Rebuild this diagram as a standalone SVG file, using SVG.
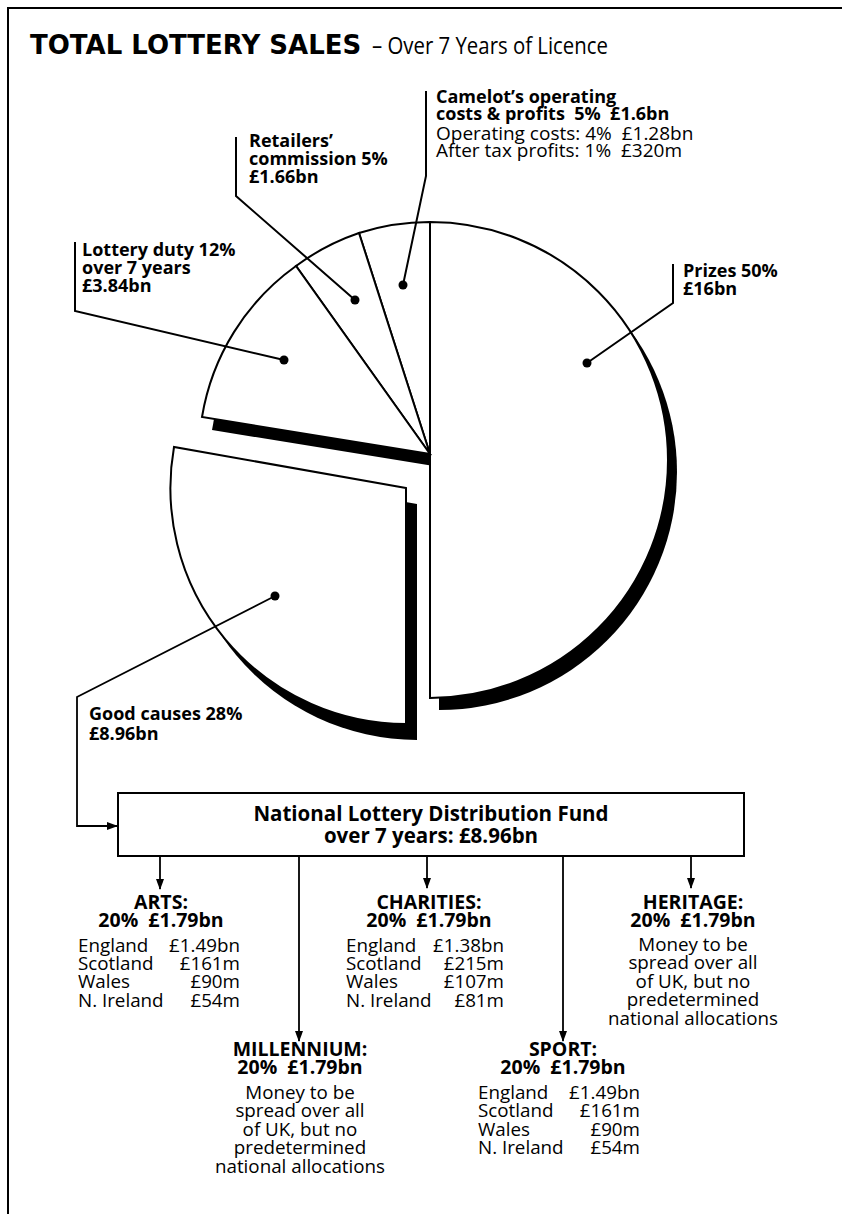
<svg xmlns="http://www.w3.org/2000/svg" width="842" height="1214" viewBox="0 0 842 1214">
  <defs>
    <style>
      text { font-family: "Open Sans", "Noto Sans", "Liberation Sans", sans-serif; fill: #000; }
      .title-b { font-family: "DejaVu Sans", "Open Sans", sans-serif; font-size: 26px; font-weight: 700; }
      .title-r { font-size: 24px; font-weight: 400; }
      .lbl { font-size: 18px; font-weight: 700; }
      .lbl-r { font-size: 19px; font-weight: 400; }
      .slice { fill: #fff; stroke: #000; stroke-width: 2; stroke-linejoin: miter; }
      .shadow { fill: #000; }
      .lead { fill: none; stroke: #000; stroke-width: 2; }
      .conn { fill: none; stroke: #000; stroke-width: 1.8; }
      .dot { fill: #000; }
      .box { fill: #fff; stroke: #000; stroke-width: 2; }
      .boxtxt { font-size: 20.5px; font-weight: 700; text-anchor: middle; }
      .hd { font-size: 19.5px; font-weight: 700; text-anchor: middle; }
      .body { font-size: 18.8px; }
      .mid { text-anchor: middle; }
      .end { text-anchor: end; }
    </style>
    <marker id="arrow" markerWidth="11" markerHeight="10" refX="10" refY="5" orient="auto" markerUnits="userSpaceOnUse">
      <path d="M0,1 L11,5 L0,9 Z" fill="#000"/>
    </marker>
  </defs>

  <rect x="0" y="0" width="842" height="1214" fill="#fff"/>

  <!-- panel frame -->
  <path d="M8,1214 V8 H842" fill="none" stroke="#000" stroke-width="2"/>

  <!-- title -->
  <g id="title">
    <text class="title-b" x="30" y="54">TOTAL LOTTERY SALES</text>
    <text class="title-r" x="372" y="54" textLength="236" lengthAdjust="spacingAndGlyphs">– Over 7 Years of Licence</text>
  </g>

  <!-- drop shadows under the pie pieces -->
  <g id="shadows">
    <path class="shadow" transform="translate(9,12)" d="M430,460 L430,222 A238,238 0 0 1 430,698 Z"/>
    <path class="shadow" transform="translate(10,13)" d="M430,454 L430,222 A232,232 0 0 0 202,417 Z"/>
    <path class="shadow" transform="translate(11,16)" d="M406,488 L174,447 A236,236 0 0 0 406,724 Z"/>
  </g>

  <!-- pie slices -->
  <g id="prizes">
    <path class="slice" d="M430,460 L430,222 A238,238 0 0 1 430,698 Z"/>
    <text class="lbl" x="683" y="277">Prizes 50%</text>
    <text class="lbl" x="683" y="295">£16bn</text>
  </g>

  <g id="camelot">
    <path class="slice" d="M430,454 L430,222 A232,232 0 0 0 359,233 Z"/>
    <text class="lbl" x="436" y="103">Camelot’s operating</text>
    <text class="lbl" x="436" y="120">costs &amp; profits&#160; 5%&#160; £1.6bn</text>
    <text class="lbl-r" x="436" y="140">Operating costs: 4%&#160; £1.28bn</text>
    <text class="lbl-r" x="436" y="157">After tax profits: 1%&#160; £320m</text>
  </g>

  <g id="retailers">
    <path class="slice" d="M430,454 L359,233 A232,232 0 0 0 296,266 Z"/>
    <text class="lbl" x="249" y="147">Retailers’</text>
    <text class="lbl" x="249" y="165">commission 5%</text>
    <text class="lbl" x="249" y="183">£1.66bn</text>
  </g>

  <g id="duty">
    <path class="slice" d="M430,454 L296,266 A232,232 0 0 0 202,417 Z"/>
    <text class="lbl" x="82" y="256">Lottery duty 12%</text>
    <text class="lbl" x="82" y="274">over 7 years</text>
    <text class="lbl" x="82" y="292">£3.84bn</text>
  </g>

  <g id="good-causes">
    <path class="slice" d="M406,488 L174,447 A236,236 0 0 0 406,724 Z"/>
    <text class="lbl" x="89" y="720">Good causes 28%</text>
    <text class="lbl" x="89" y="740">£8.96bn</text>
  </g>

  <!-- fund box -->
  <g id="fund">
    <rect class="box" x="118" y="793" width="626" height="63"/>
    <text class="boxtxt" x="431" y="821">National Lottery Distribution Fund</text>
    <text class="boxtxt" x="431" y="843">over 7 years: £8.96bn</text>
  </g>

  <!-- distribution blocks -->
  <g id="arts">
    <text class="hd" x="161" y="909">ARTS:</text>
    <text class="hd" x="161" y="927">20%&#160; £1.79bn</text>
    <text class="body" x="78" y="952">England</text><text class="body end" x="240" y="952">£1.49bn</text>
    <text class="body" x="78" y="970">Scotland</text><text class="body end" x="240" y="970">£161m</text>
    <text class="body" x="78" y="988">Wales</text><text class="body end" x="240" y="988">£90m</text>
    <text class="body" x="78" y="1007">N. Ireland</text><text class="body end" x="240" y="1007">£54m</text>
  </g>

  <g id="charities">
    <text class="hd" x="429" y="909">CHARITIES:</text>
    <text class="hd" x="429" y="927">20%&#160; £1.79bn</text>
    <text class="body" x="346" y="952">England</text><text class="body end" x="504" y="952">£1.38bn</text>
    <text class="body" x="346" y="970">Scotland</text><text class="body end" x="504" y="970">£215m</text>
    <text class="body" x="346" y="988">Wales</text><text class="body end" x="504" y="988">£107m</text>
    <text class="body" x="346" y="1007">N. Ireland</text><text class="body end" x="504" y="1007">£81m</text>
  </g>

  <g id="heritage">
    <text class="hd" x="693" y="909">HERITAGE:</text>
    <text class="hd" x="693" y="927">20%&#160; £1.79bn</text>
    <text class="body mid" x="693" y="951">Money to be</text>
    <text class="body mid" x="693" y="969">spread over all</text>
    <text class="body mid" x="693" y="988">of UK, but no</text>
    <text class="body mid" x="693" y="1006">predetermined</text>
    <text class="body mid" x="693" y="1025">national allocations</text>
  </g>

  <g id="millennium">
    <text class="hd" x="300" y="1056">MILLENNIUM:</text>
    <text class="hd" x="300" y="1074">20%&#160; £1.79bn</text>
    <text class="body mid" x="300" y="1099">Money to be</text>
    <text class="body mid" x="300" y="1117">spread over all</text>
    <text class="body mid" x="300" y="1136">of UK, but no</text>
    <text class="body mid" x="300" y="1154">predetermined</text>
    <text class="body mid" x="300" y="1173">national allocations</text>
  </g>

  <g id="sport">
    <text class="hd" x="563" y="1056">SPORT:</text>
    <text class="hd" x="563" y="1074">20%&#160; £1.79bn</text>
    <text class="body" x="478" y="1099">England</text><text class="body end" x="640" y="1099">£1.49bn</text>
    <text class="body" x="478" y="1117">Scotland</text><text class="body end" x="640" y="1117">£161m</text>
    <text class="body" x="478" y="1136">Wales</text><text class="body end" x="640" y="1136">£90m</text>
    <text class="body" x="478" y="1154">N. Ireland</text><text class="body end" x="640" y="1154">£54m</text>
  </g>

  <!-- leader lines and flow connectors -->
  <g id="connectors">
    <polyline class="lead" points="426,91 426,176 403,285"/>
    <circle class="dot" cx="403" cy="285" r="4.5"/>
    <polyline class="lead" points="236,137 236,196 355,300"/>
    <circle class="dot" cx="355" cy="300" r="4.5"/>
    <polyline class="lead" points="75,242 75,311 284,360"/>
    <circle class="dot" cx="284" cy="360" r="4.5"/>
    <polyline class="lead" points="673,264 673,303 587,363"/>
    <circle class="dot" cx="587" cy="363" r="4.5"/>
    <circle class="dot" cx="275" cy="596" r="4.5"/>
    <polyline class="conn" points="275,596 77,697 77,826 117,826" marker-end="url(#arrow)"/>
    <line class="conn" x1="160" y1="856" x2="160" y2="889" marker-end="url(#arrow)"/>
    <line class="conn" x1="299" y1="856" x2="299" y2="1041" marker-end="url(#arrow)"/>
    <line class="conn" x1="427" y1="856" x2="427" y2="888" marker-end="url(#arrow)"/>
    <line class="conn" x1="563" y1="856" x2="563" y2="1041" marker-end="url(#arrow)"/>
    <line class="conn" x1="691" y1="856" x2="691" y2="888" marker-end="url(#arrow)"/>
  </g>
</svg>
